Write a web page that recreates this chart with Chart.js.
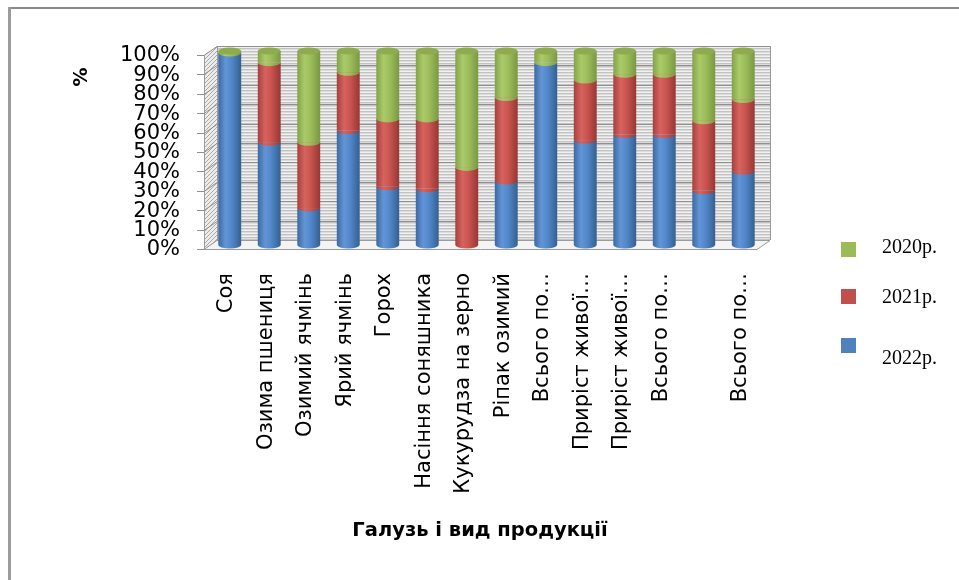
<!DOCTYPE html>
<html>
<head>
<meta charset="utf-8">
<script src="https://cdn.jsdelivr.net/npm/chart.js@4/dist/chart.umd.min.js"></script>
<style>
  html, body { margin: 0; padding: 0; background: #fff; overflow: hidden; }
  #c { display: block; }
</style>
</head>
<body>
<canvas id="c" width="959" height="580"></canvas>
<script>
// Галузі та види продукції (категорії осі X)
const categories = [
  'Соя', 'Озима пшениця', 'Озимий ячмінь', 'Ярий ячмінь', 'Горох',
  'Насіння соняшника', 'Кукурудза на зерно', 'Ріпак озимий', 'Всього по…',
  'Приріст живої…', 'Приріст живої…', 'Всього по…', '', 'Всього по…'
];

// Частки за роками, %
const share2022 = [99, 53, 19, 59, 30, 29, 0, 33, 94, 54, 57, 57, 28, 38];
const share2021 = [0, 41, 34, 30, 35, 36, 40, 43, 0, 31, 31, 31, 36, 37];
const share2020 = [1, 6, 47, 11, 35, 35, 60, 24, 6, 15, 12, 12, 36, 25];

// Підписи шкали Y
const yTickValues = [0, 10, 20, 30, 40, 50, 60, 70, 80, 90, 100];

const seriesNames = ['2022р.', '2021р.', '2020р.'];
const axisTitleX = 'Галузь і вид продукції';
const axisTitleY = '%';

// Кольори циліндрів: край, відблиск, середина, тіньовий край, кришка
const palette = {
  '2022р.': { base: '#4F81BD', stops: ['#3c69a3', '#6395d6', '#5086c8', '#35608f'], cap: '#5b8cc9' },
  '2021р.': { base: '#C0504D', stops: ['#a6403d', '#d6635f', '#c8534f', '#963734'], cap: '#c85a56' },
  '2020р.': { base: '#9BBB59', stops: ['#83a347', '#abca6a', '#9cbc5a', '#7a9841'], cap: '#8eac4d' }
};

const BAR_FRACTION = 0.58;
const CAP_RY = 3.5;
const FRONT = { dx: -6, dy: 4 };
const BACK = { dx: 7, dy: -5 };

function cylinderFill(name) {
  const p = palette[name];
  return (ctx) => {
    const chart = ctx.chart;
    if (ctx.type !== 'data' || !chart.chartArea) return p.base;
    const xs = chart.scales.x;
    const cx = xs.getPixelForValue(ctx.dataIndex);
    const half = xs.width / categories.length * BAR_FRACTION / 2;
    const g = chart.ctx.createLinearGradient(cx - half, 0, cx + half, 0);
    g.addColorStop(0, p.stops[0]);
    g.addColorStop(0.32, p.stops[1]);
    g.addColorStop(0.6, p.stops[2]);
    g.addColorStop(1, p.stops[3]);
    return g;
  };
}

function stripePattern(ctx) {
  const c = document.createElement('canvas');
  c.width = 4; c.height = 3;
  const g = c.getContext('2d');
  g.fillStyle = '#f1f1f1'; g.fillRect(0, 0, 4, 3);
  g.fillStyle = '#c2c2c2'; g.fillRect(0, 0, 4, 1);
  g.fillStyle = '#dcdcdc'; g.fillRect(0, 1, 4, 1);
  return ctx.createPattern(c, 'repeat');
}

function hatchPattern(ctx) {
  const c = document.createElement('canvas');
  c.width = 4; c.height = 4;
  const g = c.getContext('2d');
  g.fillStyle = '#ececec'; g.fillRect(0, 0, 4, 4);
  g.strokeStyle = '#a9a9a9'; g.lineWidth = 1;
  g.beginPath(); g.moveTo(0, 4); g.lineTo(4, 0); g.moveTo(-1, 1); g.lineTo(1, -1); g.moveTo(3, 5); g.lineTo(5, 3); g.stroke();
  return ctx.createPattern(c, 'repeat');
}

// Рамка області діаграми
const framePlugin = {
  id: 'frame',
  beforeDraw(chart) {
    const ctx = chart.ctx;
    ctx.save();
    ctx.fillStyle = '#8a8a8a';
    ctx.fillRect(8, 7, chart.width - 8, 2);
    ctx.fillStyle = '#9c9c9c';
    ctx.fillRect(8, 7, 3, chart.height - 7);
    ctx.restore();
  }
};

// Тривимірні стінки, підлога та лінії сітки
const wallsPlugin = {
  id: 'walls',
  beforeDatasetsDraw(chart) {
    const { ctx, chartArea: a, scales: { y } } = chart;
    const yTop = y.getPixelForValue(100), yBot = y.getPixelForValue(0);
    const L = a.left, R = a.right;
    ctx.save();
    // задня стінка
    ctx.fillStyle = stripePattern(ctx);
    ctx.fillRect(L + BACK.dx, yTop + BACK.dy, R - L, yBot - yTop);
    // бічна стінка
    ctx.fillStyle = hatchPattern(ctx);
    ctx.beginPath();
    ctx.moveTo(L + FRONT.dx, yTop + FRONT.dy);
    ctx.lineTo(L + BACK.dx, yTop + BACK.dy);
    ctx.lineTo(L + BACK.dx, yBot + BACK.dy);
    ctx.lineTo(L + FRONT.dx, yBot + FRONT.dy);
    ctx.closePath();
    ctx.fill();
    // сітка
    ctx.strokeStyle = '#8f8f8f';
    ctx.lineWidth = 1;
    yTickValues.forEach(v => {
      const py = Math.round(y.getPixelForValue(v)) + 0.5;
      ctx.beginPath();
      ctx.moveTo(L + FRONT.dx - 7, py + FRONT.dy);
      ctx.lineTo(L + FRONT.dx, py + FRONT.dy);
      ctx.lineTo(L + BACK.dx, py + BACK.dy);
      ctx.lineTo(R + BACK.dx, py + BACK.dy);
      ctx.stroke();
    });
    // ребра
    ctx.strokeStyle = '#9a9a9a';
    ctx.beginPath();
    ctx.moveTo(L + FRONT.dx + 0.5, yTop + FRONT.dy);
    ctx.lineTo(L + FRONT.dx + 0.5, yBot + FRONT.dy);
    ctx.moveTo(L + BACK.dx + 0.5, yTop + BACK.dy);
    ctx.lineTo(L + BACK.dx + 0.5, yBot + BACK.dy);
    ctx.lineTo(R + BACK.dx, yBot + BACK.dy);
    ctx.moveTo(R + BACK.dx + 0.5, yTop + BACK.dy);
    ctx.lineTo(R + BACK.dx + 0.5, yBot + BACK.dy);
    ctx.stroke();
    // підлога
    ctx.fillStyle = '#f4f4f4';
    ctx.strokeStyle = '#9b9b9b';
    ctx.beginPath();
    ctx.moveTo(L + FRONT.dx, yBot + FRONT.dy + 0.5);
    ctx.lineTo(R + FRONT.dx, yBot + FRONT.dy + 0.5);
    ctx.lineTo(R + BACK.dx, yBot + BACK.dy + 0.5);
    ctx.lineTo(L + BACK.dx, yBot + BACK.dy + 0.5);
    ctx.closePath();
    ctx.fill();
    ctx.stroke();
    ctx.restore();
  }
};

// Округлі шви та кришки циліндрів
const cylinderPlugin = {
  id: 'cylinders',
  afterDatasetsDraw(chart) {
    const ctx = chart.ctx;
    ctx.save();
    categories.forEach((_, i) => {
      const segs = chart.data.datasets
        .map((ds, d) => ({ el: chart.getDatasetMeta(d).data[i], name: ds.label }))
        .filter(s => s.el && Math.abs(s.el.base - s.el.y) > 0.5);
      segs.forEach(s => {
        const { x, base, width } = s.el.getProps(['x', 'base', 'width'], true);
        ctx.fillStyle = s.el.options.backgroundColor;
        ctx.beginPath();
        ctx.ellipse(x, base, width / 2, CAP_RY, 0, 0, Math.PI);
        ctx.fill();
      });
      const top = segs[segs.length - 1];
      if (top) {
        const { x, y, width } = top.el.getProps(['x', 'y', 'width'], true);
        ctx.fillStyle = palette[top.name].cap;
        ctx.beginPath();
        ctx.ellipse(x, y, width / 2, CAP_RY, 0, 0, Math.PI * 2);
        ctx.fill();
      }
    });
    ctx.restore();
  }
};

// Назви осей та легенда
const labelsPlugin = {
  id: 'labelsAndLegend',
  afterDraw(chart) {
    const ctx = chart.ctx;
    ctx.save();
    ctx.fillStyle = '#000';
    ctx.font = 'bold 19.5px "DejaVu Sans"';
    ctx.textAlign = 'center';
    ctx.textBaseline = 'middle';
    ctx.fillText(axisTitleX, 480, 531);

    ctx.translate(82, 77);
    ctx.rotate(-Math.PI / 2);
    ctx.font = 'bold 19px "DejaVu Sans"';
    ctx.fillText(axisTitleY, 0, 0);
    ctx.restore();

    ctx.save();
    const rows = [
      { name: '2020р.', sq: 242, base: 253 },
      { name: '2021р.', sq: 289, base: 303 },
      { name: '2022р.', sq: 338, base: 364 }
    ];
    ctx.font = '20px "Liberation Serif"';
    ctx.textAlign = 'left';
    ctx.textBaseline = 'alphabetic';
    rows.forEach(r => {
      ctx.fillStyle = palette[r.name].base;
      ctx.fillRect(841, r.sq, 15, 15);
      ctx.fillStyle = '#000';
      ctx.fillText(r.name, 882, r.base);
    });
    ctx.restore();
  }
};

const seriesValues = [share2022, share2021, share2020];

new Chart(document.getElementById('c'), {
  type: 'bar',
  data: {
    labels: categories,
    datasets: seriesNames.map((name, k) => ({
      label: name,
      data: seriesValues[k],
      backgroundColor: cylinderFill(name),
      borderWidth: 0,
      categoryPercentage: 1,
      barPercentage: BAR_FRACTION
    }))
  },
  options: {
    responsive: false,
    animation: false,
    devicePixelRatio: 1,
    events: [],
    layout: { padding: { left: 0, top: 51, right: 196, bottom: 0 } },
    plugins: { legend: { display: false }, tooltip: { enabled: false } },
    scales: {
      x: {
        stacked: true,
        grid: { display: false, drawTicks: false },
        border: { display: false },
        ticks: {
          autoSkip: false, minRotation: 90, maxRotation: 90,
          padding: 28, labelOffset: -3,
          color: '#000',
          font: { family: 'DejaVu Sans', size: 21 }
        },
        afterFit: s => { s.height = 335; }
      },
      y: {
        stacked: true, min: 0, max: 100,
        grid: { display: false, drawTicks: false },
        border: { display: false },
        afterBuildTicks: s => { s.ticks = yTickValues.map(v => ({ value: v })); },
        ticks: {
          autoSkip: false, padding: 30, labelOffset: 5,
          color: '#000',
          font: { family: 'DejaVu Sans', size: 21 },
          callback: v => v + '%'
        },
        afterFit: s => { s.width = 210; }
      }
    }
  },
  plugins: [framePlugin, wallsPlugin, cylinderPlugin, labelsPlugin]
});
</script>
</body>
</html>
